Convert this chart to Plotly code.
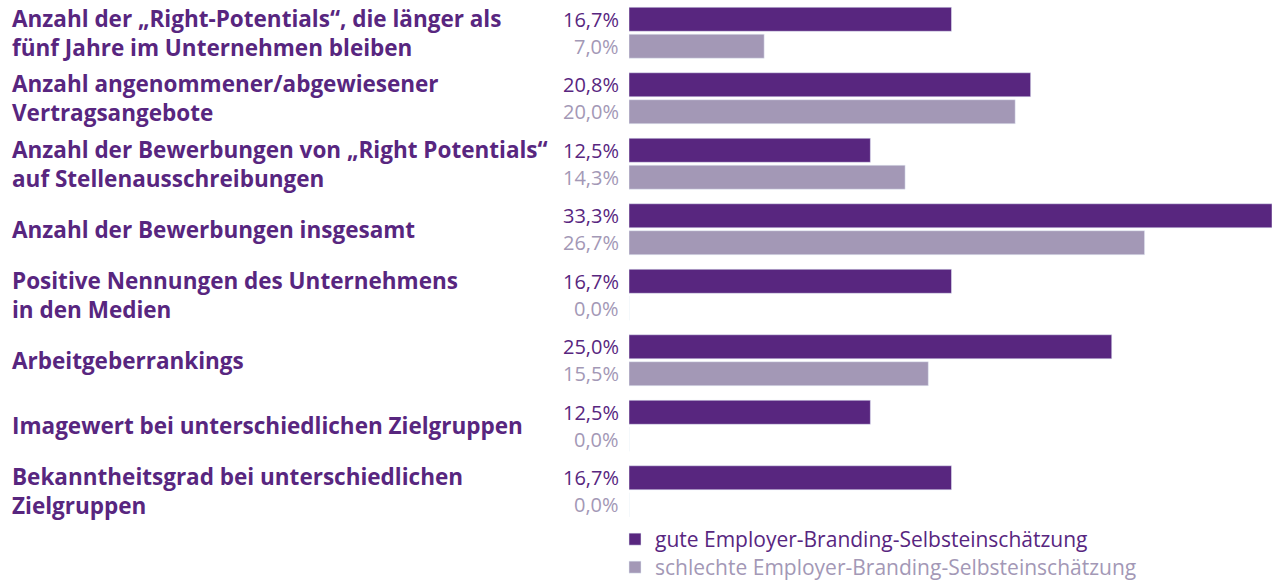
import plotly.graph_objects as go

categories = [
    "Anzahl der „Right-Potentials“, die länger als<br>fünf Jahre im Unternehmen bleiben",
    "Anzahl angenommener/abgewiesener<br>Vertragsangebote",
    "Anzahl der Bewerbungen von „Right Potentials“<br>auf Stellenausschreibungen",
    "Anzahl der Bewerbungen insgesamt",
    "Positive Nennungen des Unternehmens<br>in den Medien",
    "Arbeitgeberrankings",
    "Imagewert bei unterschiedlichen Zielgruppen",
    "Bekanntheitsgrad bei unterschiedlichen<br>Zielgruppen",
]
gute = [16.7, 20.8, 12.5, 33.3, 16.7, 25.0, 12.5, 16.7]
schlechte = [7.0, 20.0, 14.3, 26.7, 0.0, 15.5, 0.0, 0.0]
series_names = [
    "gute Employer-Branding-Selbsteinschätzung",
    "schlechte Employer-Branding-Selbsteinschätzung",
]

DARK = "#58267F"
LIGHT = "#A398B6"
FONT = "Open Sans"

W, H = 1278, 581
L, R, T, B = 629, 6, 0, 57
PW = W - L - R
PH = H - T - B


def fmt(v):
    return f"{v:.1f}".replace(".", ",") + "%"


fig = go.Figure()
fig.add_trace(go.Bar(y=categories, x=gute, orientation="h", marker_color=DARK,
                     name=series_names[0], hoverinfo="skip", legend="legend"))
fig.add_trace(go.Bar(y=categories, x=schlechte, orientation="h", marker_color=LIGHT,
                     name=series_names[1], hoverinfo="skip", legend="legend2"))

annotations = []
for cat, g, s in zip(categories, gute, schlechte):
    annotations.append(dict(x=0, y=cat, xref="x", yref="y", text=fmt(g), showarrow=False,
                            xanchor="right", xshift=-8, yshift=13.5,
                            font=dict(family=FONT, size=20, color=DARK)))
    annotations.append(dict(x=0, y=cat, xref="x", yref="y", text=fmt(s), showarrow=False,
                            xanchor="right", xshift=-8, yshift=-13.5,
                            font=dict(family=FONT, size=20, color=LIGHT)))
    annotations.append(dict(x=(10 - L) / PW, y=cat, xref="paper", yref="y",
                            text="<b>" + cat + "</b>", showarrow=False,
                            xanchor="left", align="left",
                            font=dict(family=FONT, size=22.5, color=DARK)))

legend_common = dict(orientation="v", x=-14 / PW, xanchor="left", yanchor="top",
                     itemwidth=30, bgcolor="rgba(0,0,0,0)")

fig.update_layout(
    width=W, height=H,
    margin=dict(l=L, r=R, t=T, b=B, autoexpand=False),
    barmode="group", bargap=0.177, bargroupgap=0.11,
    plot_bgcolor="white", paper_bgcolor="white",
    xaxis=dict(range=[0, 33.3], visible=False, fixedrange=True),
    yaxis=dict(range=[7.5, -0.5], showticklabels=False, showgrid=False,
               zeroline=False, fixedrange=True),
    showlegend=True,
    legend=dict(y=5 / PH, font=dict(family=FONT, size=21, color=DARK), **legend_common),
    legend2=dict(y=-23 / PH, font=dict(family=FONT, size=21, color=LIGHT), **legend_common),
    annotations=annotations,
    font=dict(family=FONT),
)

# drop the browser's default 8px body margin so the figure fills the window
fig.write_html("out.html", config={"displayModeBar": False},
               post_script="document.body.style.margin='0';")
